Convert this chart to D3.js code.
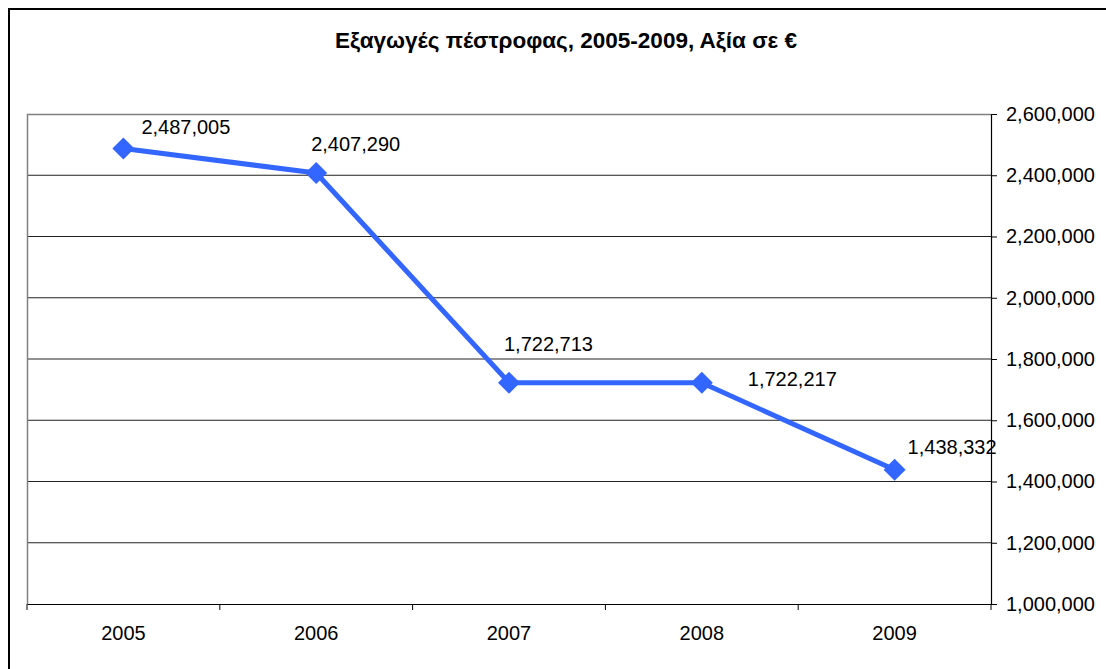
<!DOCTYPE html>
<html>
<head>
<meta charset="utf-8">
<script src="https://cdn.jsdelivr.net/npm/d3@7"></script>
<style>
html,body{margin:0;padding:0;background:#fff;}
svg{display:block;font-family:"Liberation Sans",Arial,sans-serif;}
</style>
</head>
<body>
<svg id="chart" width="1106" height="669"></svg>
<script>
const title = "Εξαγωγές πέστροφας, 2005-2009, Αξία σε €";
const years = ["2005", "2006", "2007", "2008", "2009"];
const values = [2487005, 2407290, 1722713, 1722217, 1438332];
const yTicks = [1000000, 1200000, 1400000, 1600000, 1800000, 2000000, 2200000, 2400000, 2600000];
// manual label offsets relative to each point (dx, dy baseline)
const labelOffsets = [[18, -15], [-5, -22], [-5, -32], [46, 3], [13, -16]];

(function () {
const svg = d3.select("#chart");
const pLeft = 27, pRight = 991, pTop = 114, pBottom = 604;
const fmt = d3.format(",");

// outer frame
svg.append("rect").attr("x", 9).attr("y", 9).attr("width", 1106).attr("height", 680)
  .attr("fill", "none").attr("stroke", "#000").attr("stroke-width", 2);

const x = d3.scaleBand().domain(years).range([pLeft, pRight]).padding(0);
const y = d3.scaleLinear().domain([1000000, 2600000]).range([pBottom, pTop]);

// gridlines
svg.append("g").selectAll("line").data(yTicks.filter(t => t > 1000000 && t < 2600000)).join("line")
  .attr("x1", pLeft).attr("x2", pRight)
  .attr("y1", d => y(d)).attr("y2", d => y(d))
  .attr("stroke", "#222").attr("stroke-width", 1);

// plot border left/top
svg.append("path")
  .attr("d", `M${pLeft + 0.5},${pBottom}V${pTop + 0.5}H${pRight}`)
  .attr("fill", "none").attr("stroke", "#808080").attr("stroke-width", 1.5);

// right y axis
const yAxis = d3.axisRight(y).tickValues(yTicks).tickFormat(fmt).tickSize(6).tickPadding(9);
const gy = svg.append("g").attr("transform", `translate(${pRight},0)`).call(yAxis);
gy.select(".domain").attr("stroke", "#000").attr("stroke-width", 1.2);
gy.selectAll(".tick line").attr("stroke", "#000");
gy.selectAll(".tick text").attr("font-size", 20).attr("fill", "#000")
  .attr("font-family", "Liberation Sans, Arial, sans-serif");

// bottom x axis
const xAxis = d3.axisBottom(x).tickSize(0).tickPadding(22);
const gx = svg.append("g").attr("transform", `translate(0,${pBottom})`).call(xAxis);
gx.select(".domain").attr("stroke", "#000").attr("stroke-width", 1.2);
gx.selectAll(".tick text").attr("font-size", 20).attr("fill", "#000")
  .attr("font-family", "Liberation Sans, Arial, sans-serif");
// category boundary ticks
const bounds = years.map(d => x(d)).concat([x(years[years.length - 1]) + x.bandwidth()]);
svg.append("g").selectAll("line").data(bounds).join("line")
  .attr("x1", d => d).attr("x2", d => d)
  .attr("y1", pBottom).attr("y2", pBottom + 6)
  .attr("stroke", "#000").attr("stroke-width", 1);

// line
const cx = d => x(d) + x.bandwidth() / 2;
const pts = years.map((yr, i) => [cx(yr), y(values[i])]);
svg.append("path").datum(pts)
  .attr("d", d3.line())
  .attr("fill", "none").attr("stroke", "#3366FF").attr("stroke-width", 5)
  .attr("stroke-linejoin", "round");

// diamond markers
svg.append("g").selectAll("path").data(pts).join("path")
  .attr("d", d => `M${d[0]},${d[1] - 11}L${d[0] + 11},${d[1]}L${d[0]},${d[1] + 11}L${d[0] - 11},${d[1]}Z`)
  .attr("fill", "#3366FF");

// data labels
svg.append("g").selectAll("text").data(pts).join("text")
  .attr("x", (d, i) => d[0] + labelOffsets[i][0])
  .attr("y", (d, i) => d[1] + labelOffsets[i][1])
  .attr("font-size", 20).attr("fill", "#000")
  .text((d, i) => fmt(values[i]));

// title
svg.append("text").attr("x", 566).attr("y", 48)
  .attr("text-anchor", "middle").attr("font-size", 22.5).attr("font-weight", "bold")
  .attr("fill", "#000").text(title);
})();
</script>
</body>
</html>
